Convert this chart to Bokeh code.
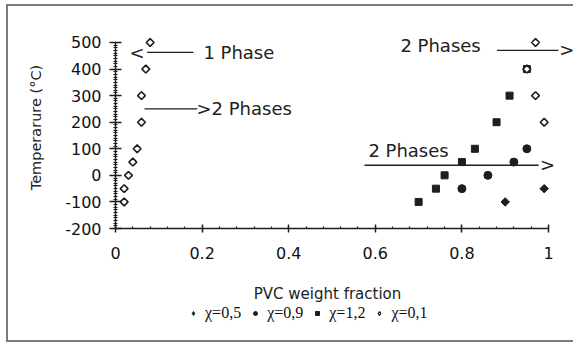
import math
from bokeh.plotting import figure
from bokeh.layouts import column
from bokeh.models import Label, Legend, LegendItem, FixedTicker, Range1d
from bokeh.embed import file_html
from bokeh.resources import INLINE

# --- data ---
chi01_x = [0.08, 0.07, 0.06, 0.06, 0.05, 0.04, 0.03, 0.02, 0.02, 0.97, 0.95, 0.97, 0.99]
chi01_y = [500, 400, 300, 200, 100, 50, 0, -50, -100, 500, 400, 300, 200]
chi12_x = [0.70, 0.74, 0.76, 0.80, 0.83, 0.88, 0.91, 0.95]
chi12_y = [-100, -50, 0, 50, 100, 200, 300, 400]
chi09_x = [0.80, 0.86, 0.92, 0.95]
chi09_y = [-50, 0, 50, 100]
chi05_x = [0.90, 0.99]
chi05_y = [-100, -50]

series_labels = ["χ=0,5", "χ=0,9", "χ=1,2", "χ=0,1"]
x_ticks = [0, 0.2, 0.4, 0.6, 0.8, 1.0]
x_tick_labels = ["0", "0.2", "0.4", "0.6", "0.8", "1"]
y_ticks = [-200, -100, 0, 100, 200, 300, 400, 500]
y_tick_labels = ["-200", "-100", "0", "100", "200", "300", "400", "500"]

# annotation lines (data coords)
ann_x0 = [0.073, 0.067, 0.881, 0.575]
ann_x1 = [0.180, 0.189, 1.023, 0.977]
ann_y = [463, 250, 470, 38]

INK = "#1e1e1e"
FONT = "DejaVu Sans"
GRAY = "#7a7a7a"
MAIN_H = 268
LEG_H = 344 - MAIN_H

p = figure(width=573, height=MAIN_H, x_range=Range1d(0, 1.0577), y_range=Range1d(-200, 560.2),
           output_backend="svg", toolbar_location=None,
           min_border_left=115, min_border_right=0, min_border_top=26,
           min_border_bottom=MAIN_H - 228)
p.outline_line_color = None
p.xgrid.visible = False
p.ygrid.visible = False
p.background_fill_alpha = 0
p.border_fill_alpha = 0

# axes
xa = p.xaxis[0]
xa.ticker = FixedTicker(ticks=x_ticks, minor_ticks=[i * 0.04 for i in range(26)])
xa.bounds = (0, 1)
xa.major_label_overrides = {t: l for t, l in zip(x_ticks, x_tick_labels)}
ya = p.yaxis[0]
ya.ticker = FixedTicker(ticks=y_ticks, minor_ticks=list(range(-200, 501, 10)))
ya.bounds = (-200, 500)
ya.major_label_overrides = {t: l for t, l in zip(y_ticks, y_tick_labels)}
ya.axis_label = "Temperarure (°C)"
for ax in (xa, ya):
    ax.axis_line_color = INK
    ax.axis_line_width = 1.5
    ax.major_tick_line_color = INK
    ax.major_tick_line_width = 1.5
    ax.minor_tick_line_color = INK
    ax.minor_tick_line_width = 1.2
    ax.major_label_text_font = FONT
    ax.major_label_text_font_size = "16px"
    ax.major_label_text_color = "#111111"
    ax.axis_label_text_font = FONT
    ax.axis_label_text_font_style = "normal"
    ax.axis_label_text_color = "#222222"
ya.axis_label_text_font_size = "14.5px"
xa.major_tick_in = 4
xa.major_tick_out = 4
xa.minor_tick_in = 2
xa.minor_tick_out = 0
xa.major_label_standoff = 14
ya.major_tick_in = 6
ya.major_tick_out = 6
ya.minor_tick_in = 2
ya.minor_tick_out = 2
ya.major_label_standoff = 8
ya.axis_label_standoff = 18

# data glyphs
p.scatter(chi05_x, chi05_y, marker="square", angle=math.pi / 4, size=6,
          fill_color=INK, line_color=INK)
p.scatter(chi09_x, chi09_y, marker="circle", size=8, fill_color=INK, line_color=INK)
p.scatter(chi12_x, chi12_y, marker="square", size=7, fill_color=INK, line_color=INK)
p.scatter(chi01_x, chi01_y, marker="square", angle=math.pi / 4, size=5.5,
          fill_color="white", line_color=INK, line_width=1.6)

# annotation lines
p.segment(x0=ann_x0, y0=ann_y, x1=ann_x1, y1=ann_y, line_color=INK, line_width=1.3)

def txt(x, y, s, size="18px", align="left"):
    p.add_layout(Label(x=x, y=y, text=s, text_font=FONT, text_font_size=size,
                       text_color="#222222", text_align=align, text_baseline="middle"))

txt(0.050, 462, "<", align="center")
txt(0.203, 463, "1 Phase")
txt(0.187, 250, ">2 Phases")
txt(0.658, 489, "2 Phases")
txt(1.042, 472, ">", align="center")
txt(0.584, 94, "2 Phases")
txt(0.998, 41, ">", align="center")

# strip under the chart: x-axis title and legend (its data lie outside its ranges)
pl = figure(width=573, height=LEG_H, x_range=Range1d(10, 11), y_range=Range1d(10, 11),
            output_backend="svg", toolbar_location=None,
            x_axis_location=None, y_axis_location=None,
            min_border_left=115, min_border_right=0, min_border_top=0, min_border_bottom=0)
pl.outline_line_color = None
pl.xgrid.visible = False
pl.ygrid.visible = False
pl.background_fill_alpha = 0
pl.border_fill_alpha = 0
l05 = pl.scatter(chi05_x, chi05_y, marker="diamond", size=9, fill_color=INK, line_color=INK)
l09 = pl.scatter(chi09_x, chi09_y, marker="circle", size=6, fill_color=INK, line_color=INK)
l12 = pl.scatter(chi12_x, chi12_y, marker="square", size=5, fill_color=INK, line_color=INK)
l01 = pl.scatter(chi01_x, chi01_y, marker="diamond", size=9, fill_color="white",
                 line_color=INK, line_width=1.3)

pl.add_layout(Label(x=212, y=51, x_units="screen", y_units="screen", text="PVC weight fraction",
                    text_font=FONT, text_font_size="15px", text_color="#222222",
                    text_align="center", text_baseline="middle"))

legend = Legend(items=[LegendItem(label=lab, renderers=[r])
                       for lab, r in zip(series_labels, [l05, l09, l12, l01])],
                orientation="horizontal", location=(73, 22))
legend.background_fill_alpha = 0
legend.border_line_color = None
legend.padding = 0
legend.margin = 0
legend.spacing = 9
legend.glyph_width = 10
legend.glyph_height = 14
legend.label_height = 14
legend.label_standoff = 7
legend.label_text_font = "Liberation Serif"
legend.label_text_font_size = "16px"
legend.label_text_color = "#111111"
pl.add_layout(legend)

layout = column(p, pl, spacing=0)
# outer grey frame of the picture, drawn behind the transparent canvases
layout.styles = {
    "background-color": "white",
    "background-image": ("linear-gradient(%s,%s), linear-gradient(%s,%s), linear-gradient(%s,%s)"
                         % (GRAY, GRAY, GRAY, GRAY, GRAY, GRAY)),
    "background-size": "2px 338px, 580px 2px, 580px 2px",
    "background-position": "6px 4px, 6px 4px, 6px 340px",
    "background-repeat": "no-repeat",
}

open("out.html", "w").write(file_html(layout, INLINE))
